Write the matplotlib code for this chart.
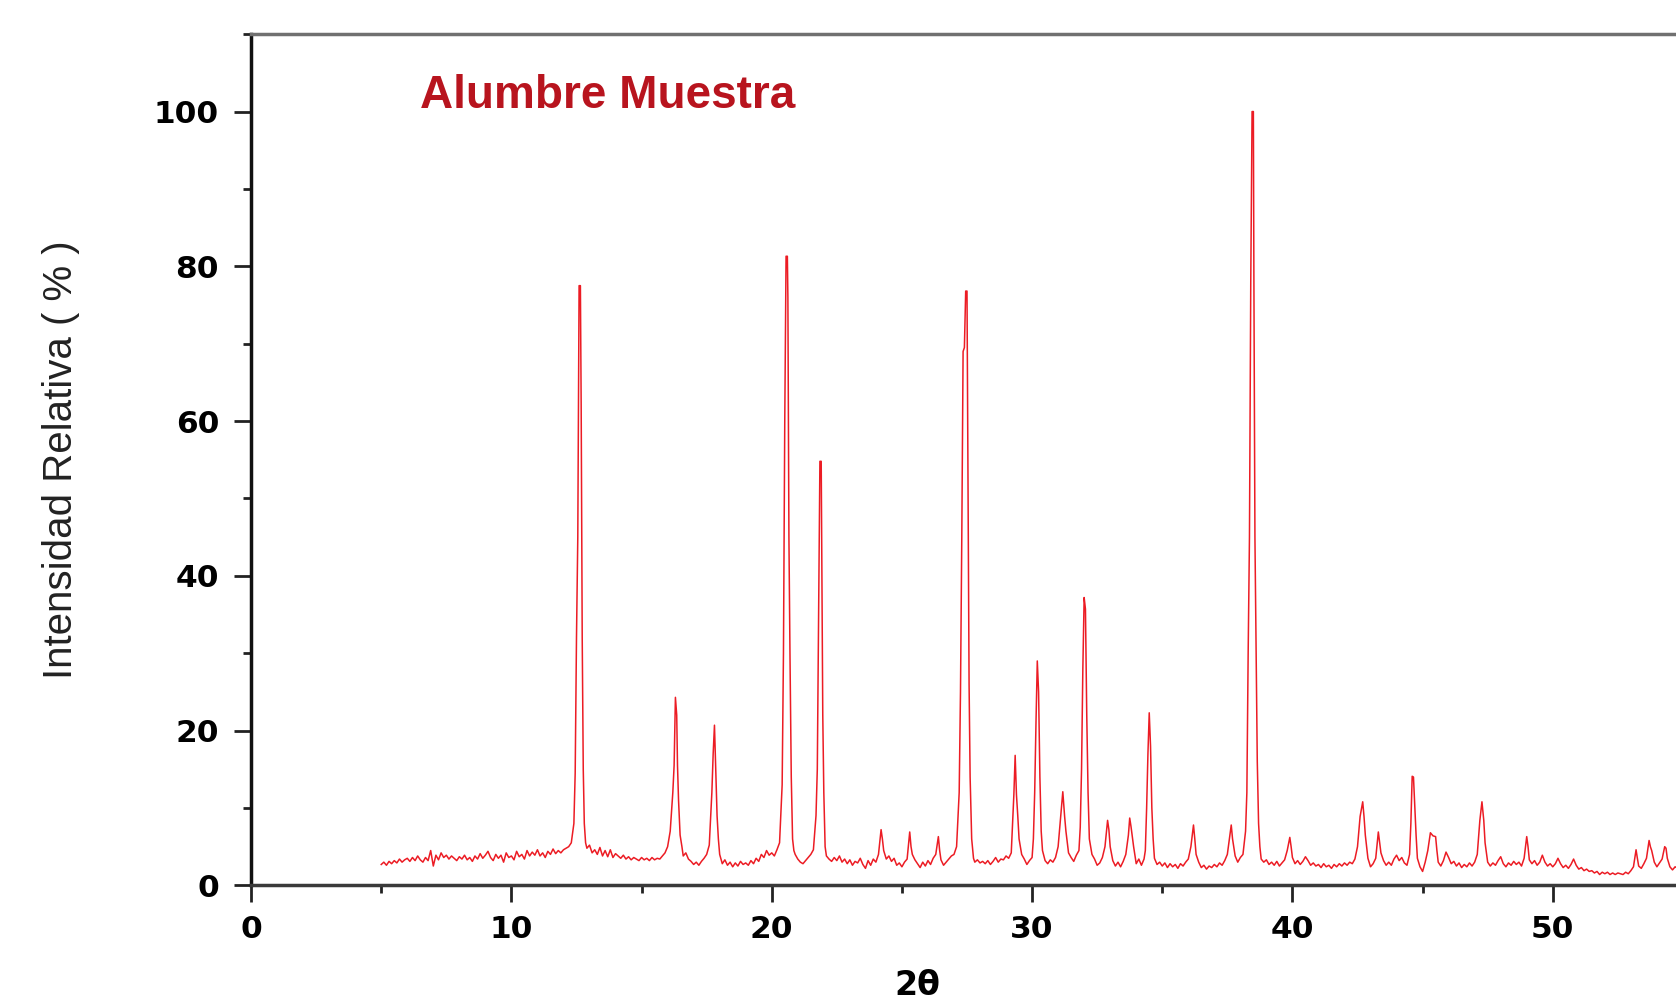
import matplotlib
matplotlib.use("Agg")
import matplotlib.pyplot as plt
from matplotlib.ticker import MultipleLocator

# diffractogram points (2theta, relative intensity %)
two_theta = [
    5.0, 5.1, 5.2, 5.3, 5.4, 5.5, 5.6, 5.7, 5.8, 5.9, 6.0, 6.1, 6.2, 6.3, 6.4, 6.5, 6.6, 6.7, 6.8, 6.9,
    7.0, 7.1, 7.2, 7.3, 7.4, 7.5, 7.6, 7.7, 7.8, 7.9, 8.0, 8.1, 8.2, 8.3, 8.4, 8.5, 8.6, 8.7, 8.8, 8.9,
    9.0, 9.1, 9.2, 9.3, 9.4, 9.5, 9.6, 9.7, 9.8, 9.9, 10.0, 10.1, 10.2, 10.3, 10.4, 10.5, 10.6, 10.7, 10.8, 10.9,
    11.0, 11.1, 11.2, 11.3, 11.4, 11.5, 11.6, 11.7, 11.8, 11.9, 12.0, 12.1, 12.2, 12.3, 12.4, 12.45, 12.5, 12.55,
    12.6, 12.65, 12.68, 12.72, 12.76, 12.8, 12.85, 12.9, 13.0, 13.1, 13.2, 13.3, 13.4, 13.5, 13.6, 13.7, 13.8, 13.9,
    14.0, 14.1, 14.2, 14.3, 14.4, 14.5, 14.6, 14.7, 14.8, 14.9, 15.0, 15.1, 15.2, 15.3, 15.4, 15.5, 15.6, 15.7, 15.8, 15.9,
    16.0, 16.1, 16.2, 16.25, 16.3, 16.35, 16.38, 16.42, 16.48, 16.55, 16.6, 16.7, 16.8, 16.9, 17.0, 17.1, 17.2, 17.3, 17.4, 17.5,
    17.6, 17.7, 17.75, 17.8, 17.85, 17.9, 17.95, 18.0, 18.1, 18.2, 18.3, 18.4, 18.5, 18.6, 18.7, 18.8, 18.9, 19.0, 19.1, 19.2,
    19.3, 19.4, 19.5, 19.6, 19.7, 19.8, 19.9, 20.0, 20.1, 20.2, 20.3, 20.4, 20.45, 20.5, 20.55, 20.6, 20.62, 20.66, 20.7, 20.75,
    20.8, 20.85, 20.9, 21.0, 21.1, 21.2, 21.3, 21.4, 21.5, 21.6, 21.7, 21.75, 21.8, 21.85, 21.9, 21.92, 21.96, 22.0, 22.05, 22.1,
    22.2, 22.3, 22.4, 22.5, 22.6, 22.7, 22.8, 22.9, 23.0, 23.1, 23.2, 23.3, 23.4, 23.5, 23.6, 23.7, 23.8, 23.9, 24.0, 24.1,
    24.2, 24.25, 24.3, 24.4, 24.5, 24.6, 24.7, 24.8, 24.9, 25.0, 25.1, 25.2, 25.3, 25.35, 25.4, 25.5, 25.6, 25.7, 25.8, 25.9,
    26.0, 26.1, 26.2, 26.3, 26.4, 26.45, 26.5, 26.6, 26.7, 26.8, 26.9, 27.0, 27.1, 27.2, 27.25, 27.3, 27.35, 27.4, 27.45, 27.5,
    27.55, 27.58, 27.62, 27.68, 27.75, 27.8, 27.9, 28.0, 28.1, 28.2, 28.3, 28.4, 28.5, 28.6, 28.7, 28.8, 28.9, 29.0, 29.1, 29.2,
    29.25, 29.3, 29.35, 29.4, 29.45, 29.5, 29.6, 29.7, 29.8, 29.9, 30.0, 30.05, 30.1, 30.15, 30.2, 30.25, 30.3, 30.35, 30.4, 30.5,
    30.6, 30.7, 30.8, 30.9, 31.0, 31.1, 31.18, 31.25, 31.3, 31.4, 31.5, 31.6, 31.7, 31.8, 31.85, 31.9, 31.95, 32.0, 32.05, 32.1,
    32.15, 32.2, 32.3, 32.4, 32.5, 32.6, 32.7, 32.8, 32.9, 32.95, 33.0, 33.1, 33.2, 33.3, 33.4, 33.5, 33.6, 33.7, 33.75, 33.8,
    33.9, 34.0, 34.1, 34.2, 34.3, 34.35, 34.4, 34.45, 34.5, 34.55, 34.6, 34.65, 34.7, 34.8, 34.9, 35.0, 35.1, 35.2, 35.3, 35.4,
    35.5, 35.6, 35.7, 35.8, 35.9, 36.0, 36.1, 36.2, 36.25, 36.3, 36.4, 36.5, 36.6, 36.7, 36.8, 36.9, 37.0, 37.1, 37.2, 37.3,
    37.4, 37.5, 37.6, 37.65, 37.7, 37.8, 37.9, 38.0, 38.1, 38.2, 38.25, 38.3, 38.35, 38.4, 38.45, 38.5, 38.52, 38.56, 38.6, 38.65,
    38.7, 38.75, 38.8, 38.9, 39.0, 39.1, 39.2, 39.3, 39.4, 39.5, 39.6, 39.7, 39.8, 39.9, 39.95, 40.0, 40.1, 40.2, 40.3, 40.4,
    40.5, 40.6, 40.7, 40.8, 40.9, 41.0, 41.1, 41.2, 41.3, 41.4, 41.5, 41.6, 41.7, 41.8, 41.9, 42.0, 42.1, 42.2, 42.3, 42.4,
    42.5, 42.6, 42.7, 42.75, 42.8, 42.9, 43.0, 43.1, 43.2, 43.3, 43.35, 43.4, 43.5, 43.6, 43.7, 43.8, 43.9, 44.0, 44.1, 44.2,
    44.3, 44.4, 44.5, 44.55, 44.6, 44.65, 44.7, 44.75, 44.8, 44.9, 45.0, 45.1, 45.2, 45.3, 45.4, 45.5, 45.55, 45.6, 45.7, 45.8,
    45.9, 46.0, 46.1, 46.2, 46.3, 46.4, 46.5, 46.6, 46.7, 46.8, 46.9, 47.0, 47.1, 47.2, 47.28, 47.35, 47.4, 47.5, 47.6, 47.7,
    47.8, 47.9, 48.0, 48.1, 48.2, 48.3, 48.4, 48.5, 48.6, 48.7, 48.8, 48.9, 49.0, 49.05, 49.1, 49.2, 49.3, 49.4, 49.5, 49.6,
    49.7, 49.8, 49.9, 50.0, 50.1, 50.2, 50.3, 50.4, 50.5, 50.6, 50.7, 50.8, 50.9, 51.0, 51.1, 51.2, 51.3, 51.4, 51.5, 51.6,
    51.7, 51.8, 51.9, 52.0, 52.1, 52.2, 52.3, 52.4, 52.5, 52.6, 52.7, 52.8, 52.9, 53.0, 53.1, 53.2, 53.25, 53.3, 53.4, 53.5,
    53.6, 53.7, 53.75, 53.8, 53.9, 54.0, 54.1, 54.2, 54.3, 54.35, 54.4, 54.5, 54.6, 54.7, 54.8,
]
intensity = [
    2.7, 3.0, 2.6, 3.1, 2.8, 3.2, 2.9, 3.4, 3.0, 3.3, 3.5, 3.1, 3.6, 3.2, 3.8, 3.3, 3.0, 3.6, 3.2, 4.5,
    2.5, 3.9, 3.3, 4.2, 3.6, 3.9, 3.4, 3.8, 3.5, 3.2, 3.7, 3.4, 3.9, 3.3, 3.6, 3.1, 3.8, 3.4, 4.1, 3.5,
    3.9, 4.4, 3.6, 3.2, 4.0, 3.5, 3.9, 3.0, 4.2, 3.6, 3.8, 3.3, 4.4, 3.7, 4.0, 3.4, 4.5, 3.8, 4.3, 3.9,
    4.6, 3.8, 4.2, 3.6, 4.4, 4.0, 4.7, 4.1, 4.5, 4.2, 4.6, 4.8, 5.0, 5.5, 8.0, 14.5, 32.0, 45.0,
    77.5, 77.5, 62.0, 32.0, 15.0, 8.0, 5.5, 4.8, 5.2, 4.2, 4.6, 4.0, 4.9, 3.8, 4.5, 3.7, 4.6, 3.6,
    4.1, 3.8, 3.5, 3.9, 3.4, 3.7, 3.3, 3.6, 3.4, 3.2, 3.6, 3.3, 3.5, 3.2, 3.6, 3.3, 3.5, 3.4, 3.8, 4.2,
    5.0, 7.0, 12.0, 15.5, 24.3, 22.0, 15.5, 11.0, 6.5, 5.0, 3.8, 4.2, 3.4, 3.1, 2.7, 3.0, 2.6, 3.1, 3.5, 4.0,
    5.2, 12.0, 17.0, 20.7, 15.0, 9.0, 6.0, 4.0, 2.8, 3.3, 2.6, 3.0, 2.4, 2.9, 2.5, 3.1, 2.7, 2.9, 2.6, 3.2,
    2.8, 3.5, 3.1, 4.0, 3.6, 4.5, 3.9, 4.2, 3.8, 4.6, 5.5, 13.0, 30.0, 60.0, 81.3, 81.3, 76.0, 45.0, 30.0, 14.0,
    6.0, 4.5, 4.0, 3.4, 3.0, 2.8, 3.2, 3.6, 4.0, 4.6, 9.0, 15.0, 35.0, 54.8, 54.8, 43.5, 22.0, 12.0, 5.0, 3.8,
    3.4, 3.1, 3.6, 3.2, 3.8, 3.0, 3.4, 2.8, 3.3, 2.6, 3.1, 2.9, 3.5, 2.7, 2.2, 3.2, 2.6, 3.4, 3.0, 4.0,
    7.2, 6.0, 4.5, 3.4, 3.8, 3.1, 3.5, 2.6, 2.9, 2.4, 3.0, 3.4, 6.9, 5.0, 4.0, 3.3, 2.8, 2.3, 3.0, 2.5,
    3.2, 2.7, 3.5, 4.0, 6.3, 4.5, 3.3, 2.6, 3.0, 3.4, 3.8, 4.0, 5.0, 12.0, 25.0, 45.0, 69.0, 69.5, 76.8, 76.8,
    45.0, 26.0, 14.0, 6.0, 3.5, 3.0, 3.3, 2.9, 3.1, 2.8, 3.2, 2.7, 3.1, 3.6, 3.0, 3.4, 3.3, 3.8, 3.5, 4.2,
    8.0, 11.7, 16.8, 11.7, 9.0, 6.0, 4.0, 3.4, 2.7, 3.2, 3.6, 6.0, 12.0, 21.0, 29.0, 25.0, 14.0, 7.0, 4.5, 3.2,
    2.8, 3.3, 3.0, 3.6, 5.0, 9.0, 12.1, 8.9, 7.0, 4.2, 3.6, 3.1, 3.9, 4.5, 7.5, 15.0, 28.0, 37.2, 35.7, 22.0,
    12.0, 6.0, 4.0, 3.4, 2.6, 2.9, 3.6, 5.0, 8.4, 7.2, 5.0, 3.2, 2.5, 3.0, 2.4, 3.1, 4.0, 6.5, 8.7, 7.6,
    5.0, 2.8, 3.4, 2.6, 3.4, 4.5, 10.0, 17.0, 22.3, 18.0, 10.0, 6.0, 3.5, 2.7, 3.0, 2.5, 2.9, 2.3, 2.8, 2.4,
    2.7, 2.2, 2.8, 2.5, 3.0, 3.4, 5.0, 7.8, 6.0, 4.0, 3.0, 2.3, 2.6, 2.1, 2.5, 2.3, 2.7, 2.4, 2.9, 2.6,
    3.2, 4.0, 6.5, 7.8, 6.0, 3.8, 3.0, 3.6, 4.0, 7.0, 12.0, 30.0, 45.0, 78.0, 100.0, 100.0, 78.5, 45.0, 32.0, 16.0,
    8.0, 5.0, 3.4, 3.0, 3.3, 2.7, 3.0, 2.6, 3.1, 2.5, 2.9, 3.3, 4.5, 6.2, 5.0, 3.6, 2.8, 3.2, 2.7, 3.1,
    3.7, 3.2, 2.6, 2.9, 2.5, 2.7, 2.3, 2.8, 2.4, 2.6, 2.2, 2.7, 2.4, 2.8, 2.5, 2.9, 2.6, 3.0, 2.8, 3.4,
    5.0, 8.9, 10.8, 8.9, 6.5, 3.5, 2.4, 2.8, 3.5, 6.9, 5.5, 4.2, 3.2, 2.6, 3.0, 2.6, 3.4, 3.9, 3.2, 3.6,
    2.9, 2.6, 4.0, 8.0, 14.1, 14.0, 10.1, 6.5, 3.5, 2.4, 1.8, 3.0, 4.5, 6.8, 6.4, 6.3, 4.5, 3.0, 2.5, 3.2,
    4.3, 3.6, 2.8, 3.1, 2.5, 2.9, 2.3, 2.7, 2.4, 2.9, 2.5, 3.0, 4.0, 8.4, 10.8, 8.4, 5.5, 3.0, 2.5, 2.9,
    2.6, 3.2, 3.7, 2.8, 2.4, 2.9, 2.6, 3.1, 2.7, 3.0, 2.5, 3.5, 6.3, 5.0, 3.3, 2.8, 3.2, 2.6, 3.0, 3.9,
    3.0, 2.5, 2.8, 2.4, 2.8, 3.5, 2.8, 2.3, 2.6, 2.2, 2.7, 3.4, 2.6, 2.1, 2.3, 1.9, 2.1, 1.8, 1.9, 1.6,
    1.8, 1.4, 1.7, 1.5, 1.7, 1.4, 1.6, 1.4, 1.6, 1.5, 1.4, 1.7, 1.5, 1.9, 2.4, 4.6, 3.5, 2.5, 2.2, 2.8,
    3.5, 5.8, 5.0, 4.5, 3.0, 2.4, 2.9, 3.4, 5.0, 4.8, 3.5, 2.4, 2.0, 2.4, 2.2,
]

x_ticks = [0, 10, 20, 30, 40, 50]
y_ticks = [0, 20, 40, 60, 80, 100]

fig = plt.figure(figsize=(16.76, 10.02), dpi=100)
# the plot runs past the right edge of the picture, as in the original
ax = fig.add_axes([0.1498, 0.1164, 0.932, 0.8495])

ax.plot(two_theta, intensity, color="#ec1c24", lw=1.1)

ax.set_xlim(0, 60)
ax.set_ylim(0, 110)
ax.set_xticks(x_ticks)
ax.set_yticks(y_ticks)
ax.xaxis.set_minor_locator(MultipleLocator(5))
ax.yaxis.set_minor_locator(MultipleLocator(10))

ax.tick_params(which="major", direction="out", length=12, width=2, color="#222222")
ax.tick_params(which="minor", direction="out", length=6, width=2, color="#222222")
ax.tick_params(axis="x", which="major", pad=9)
ax.tick_params(axis="y", which="major", pad=11)
for lab in ax.get_xticklabels() + ax.get_yticklabels():
    lab.set_family("DejaVu Sans")
    lab.set_fontweight("bold")
    lab.set_fontsize(22.5)

ax.spines["right"].set_visible(False)
ax.spines["left"].set_linewidth(2.5)
ax.spines["left"].set_color("#111111")
ax.spines["bottom"].set_linewidth(2.5)
ax.spines["bottom"].set_color("#3a3a3a")
ax.spines["top"].set_linewidth(2.5)
ax.spines["top"].set_color("#707070")

fig.text(61 / 1676, 1 - 460 / 1002, "Intensidad Relativa ( % )",
         family=["Liberation Sans", "DejaVu Sans"], fontsize=29, color="#222222",
         rotation=90, ha="center", va="center")

ax.set_xlabel("2θ", family="DejaVu Sans", fontweight="bold", fontsize=24)
ax.xaxis.set_label_coords(25.6 / 60, -0.098)

ax.text(6.5, 100.4, "Alumbre Muestra", family=["Liberation Sans", "DejaVu Sans"],
        fontweight="bold", fontsize=33, color="#b8141e", va="baseline")

fig.savefig("out.png", dpi=100)
